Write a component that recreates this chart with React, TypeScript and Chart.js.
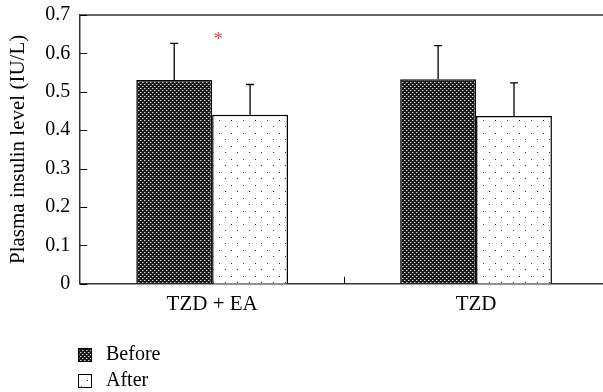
import React, { useEffect, useRef } from "react";
import { Chart, registerables } from "chart.js";

Chart.register(...registerables);

const categories = ["TZD + EA", "TZD"];
const seriesNames = ["Before", "After"];
const beforeValues = [0.531, 0.533];
const afterValues = [0.44, 0.437];
const beforeErrors = [0.095, 0.087];
const afterErrors = [0.079, 0.086];
const yTicks = [0, 0.1, 0.2, 0.3, 0.4, 0.5, 0.6, 0.7];
const yTitle = "Plasma insulin level (IU/L)";
const significanceMark = "*";
const significanceValue = 0.64;

const FONT = "'Liberation Serif', 'DejaVu Serif', serif";
const CANVAS_W = 608;
const CANVAS_H = 392;

function makeBeforePattern(): CanvasPattern | string {
  const c = document.createElement("canvas");
  c.width = 4;
  c.height = 4;
  const g = c.getContext("2d");
  if (!g) return "#333";
  g.fillStyle = "#1c1c1c";
  g.fillRect(0, 0, 4, 4);
  g.fillStyle = "#d0d0d0";
  g.fillRect(0, 0, 1, 1);
  g.fillRect(2, 2, 1, 1);
  g.fillStyle = "#707070";
  g.fillRect(1, 0, 1, 1);
  g.fillRect(3, 2, 1, 1);
  const p = g.createPattern(c, "repeat");
  return p || "#333";
}

function makeAfterPattern(): CanvasPattern | string {
  const c = document.createElement("canvas");
  c.width = 12;
  c.height = 13;
  const g = c.getContext("2d");
  if (!g) return "#fff";
  g.fillStyle = "#ffffff";
  g.fillRect(0, 0, 12, 13);
  g.fillStyle = "#3a3a3a";
  g.fillRect(3, 3, 1, 1);
  g.fillRect(9, 9, 1, 1);
  const p = g.createPattern(c, "repeat");
  return p || "#fff";
}

export default function App() {
  const ref = useRef<HTMLCanvasElement | null>(null);

  useEffect(() => {
    document.body.style.margin = "0";
    document.body.style.overflow = "hidden";
    const canvas = ref.current;
    if (!canvas) return;
    const beforeFill = makeBeforePattern();
    const afterFill = makeAfterPattern();
    const errors = [beforeErrors, afterErrors];

    const decorPlugin = {
      id: "decor",
      afterDatasetsDraw(chart: any) {
        const ctx = chart.ctx;
        const area = chart.chartArea;
        const y = chart.scales.y;
        const x = chart.scales.x;
        ctx.save();
        // error bars
        ctx.strokeStyle = "#000";
        ctx.lineWidth = 1.3;
        chart.data.datasets.forEach((ds: any, di: number) => {
          const meta = chart.getDatasetMeta(di);
          meta.data.forEach((el: any, i: number) => {
            const v = ds.data[i];
            const top = y.getPixelForValue(v + errors[di][i]);
            const base = y.getPixelForValue(v);
            ctx.beginPath();
            ctx.moveTo(el.x, base);
            ctx.lineTo(el.x, top);
            ctx.moveTo(el.x - 4, top);
            ctx.lineTo(el.x + 4, top);
            ctx.stroke();
          });
        });
        // frame: top line
        ctx.strokeStyle = "#333";
        ctx.lineWidth = 1.5;
        ctx.beginPath();
        ctx.moveTo(area.left, area.top);
        ctx.lineTo(area.right, area.top);
        ctx.stroke();
        // y ticks inside
        ctx.lineWidth = 1;
        ctx.strokeStyle = "#000";
        yTicks.forEach((t) => {
          const py = Math.round(y.getPixelForValue(t)) + 0.5;
          ctx.beginPath();
          ctx.moveTo(area.left, py);
          ctx.lineTo(area.left + 7, py);
          ctx.stroke();
        });
        // x tick between categories
        const mid = Math.round((x.getPixelForValue(0) + x.getPixelForValue(1)) / 2) + 0.5;
        ctx.beginPath();
        ctx.moveTo(mid, area.bottom);
        ctx.lineTo(mid, area.bottom - 7);
        ctx.stroke();
        // significance mark
        const m0 = chart.getDatasetMeta(0).data[0];
        const mx = m0.x + m0.width / 2 + 6;
        const my = y.getPixelForValue(significanceValue);
        ctx.fillStyle = "#f0404a";
        ctx.font = "19px " + FONT;
        ctx.textAlign = "center";
        ctx.textBaseline = "middle";
        ctx.fillText(significanceMark, mx, my + 2);
        // legend
        const fills = [beforeFill, afterFill];
        ctx.font = "20px " + FONT;
        ctx.textAlign = "left";
        ctx.textBaseline = "middle";
        seriesNames.forEach((name, i) => {
          const cy = 355 + i * 26;
          ctx.fillStyle = fills[i] as any;
          ctx.fillRect(78, cy - 7, 14, 14);
          ctx.strokeStyle = "#000";
          ctx.lineWidth = 1;
          ctx.strokeRect(78.5, cy - 6.5, 13, 13);
          ctx.fillStyle = "#000";
          ctx.fillText(name, 106, cy);
        });
        ctx.restore();
      },
    };

    const chart = new Chart(canvas, {
      type: "bar",
      data: {
        labels: categories,
        datasets: [
          {
            label: seriesNames[0],
            data: beforeValues,
            backgroundColor: beforeFill as any,
            borderColor: "#000",
            borderWidth: 1.5,
            categoryPercentage: 0.575,
            barPercentage: 1,
          },
          {
            label: seriesNames[1],
            data: afterValues,
            backgroundColor: afterFill as any,
            borderColor: "#000",
            borderWidth: 1.5,
            categoryPercentage: 0.575,
            barPercentage: 1,
          },
        ],
      },
      options: {
        animation: false,
        responsive: false,
        maintainAspectRatio: false,
        layout: { padding: { top: 15, right: 0, bottom: 67, left: 6 } },
        plugins: {
          legend: { display: false },
          tooltip: { enabled: false },
        },
        scales: {
          x: {
            grid: { display: false, drawTicks: false },
            border: { display: true, color: "#333", width: 1.5 },
            ticks: {
              color: "#000",
              font: { family: FONT, size: 21 },
              padding: 8,
            },
          },
          y: {
            min: 0,
            max: 0.7,
            afterBuildTicks: (axis: any) => {
              axis.ticks = yTicks.map((v) => ({ value: v }));
            },
            afterFit: (axis: any) => {
              axis.paddingTop = 0;
            },
            grid: { display: false, drawTicks: false },
            border: { display: true, color: "#333", width: 1.5 },
            ticks: {
              color: "#000",
              font: { family: FONT, size: 20 },
              padding: 10,
              callback: (v: any) => (Number(v) === 0 ? "0" : Number(v).toFixed(1)),
            },
            title: {
              display: true,
              text: yTitle,
              color: "#000",
              font: { family: FONT, size: 21 },
              padding: { top: 0, bottom: 4 },
            },
          },
        },
      },
      plugins: [decorPlugin],
    });
    return () => chart.destroy();
  }, []);

  return (
    <div style={{ width: 603, height: 392, overflow: "hidden" }}>
      <canvas
        ref={ref}
        width={CANVAS_W}
        height={CANVAS_H}
        style={{ width: CANVAS_W, height: CANVAS_H, display: "block" }}
      />
    </div>
  );
}
